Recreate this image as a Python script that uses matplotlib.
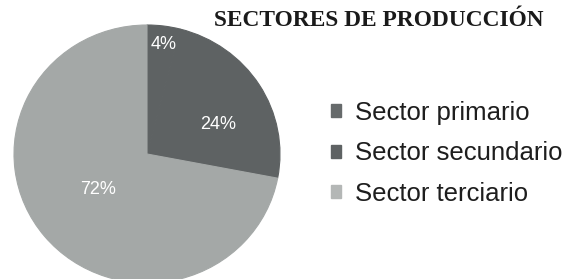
import math
import matplotlib.pyplot as plt

# datos del grafico
sectores = ['Sector primario', 'Sector secundario', 'Sector terciario']
porcentajes = [4, 24, 72]
etiquetas = ['4%', '24%', '72%']
colores = ['#5e6263', '#5e6263', '#a4a8a7']
colores_leyenda = ['#666a6b', '#5e6263', '#b4b7b6']

# posicion de cada etiqueta (radio relativo, angulo en grados)
pos_etiquetas = [(0.86, 81.5), (0.58, 23.5), (0.46, 216.5)]

fig = plt.figure(figsize=(5.68, 2.79), dpi=100)
W, H = 568, 279

# pie: centro (147, 154) px desde arriba, radios 133 x 129
ax = fig.add_axes([(147 - 133) / W, (H - 154 - 129) / H, 266 / W, 258 / H])
wedges, _ = ax.pie(porcentajes, colors=colores, startangle=90,
                   counterclock=False, radius=1)
for w, c in zip(wedges, colores):
    w.set_edgecolor(c)
    w.set_linewidth(0.8)
ax.set_aspect('auto')
ax.set_xlim(-1, 1)
ax.set_ylim(-1, 1)
ax.axis('off')

for txt, (r, ang) in zip(etiquetas, pos_etiquetas):
    a = math.radians(ang)
    ax.text(r * math.cos(a), r * math.sin(a), txt, color='white',
            fontsize=13, family='Liberation Sans', ha='center', va='center')

fig.text(379 / W, 1 - 20 / H, 'SECTORES DE PRODUCCIÓN', family='Liberation Serif',
         fontweight='bold', fontsize=16.8, color='#1a1a1a', ha='center', va='center')

handles = [plt.Rectangle((0, 0), 1, 1, color=c) for c in colores_leyenda]
leg = fig.legend(handles, sectores, loc='upper left',
                 bbox_to_anchor=(331 / W, 1 - 101 / H), frameon=False,
                 prop={'family': 'Liberation Sans', 'size': 18.5},
                 handlelength=0.4, handleheight=0.4, handletextpad=0.55,
                 labelspacing=0.64, borderpad=0, borderaxespad=0)
for t in leg.get_texts():
    t.set_color('#1e1e1e')

fig.savefig('out.png', dpi=100)
